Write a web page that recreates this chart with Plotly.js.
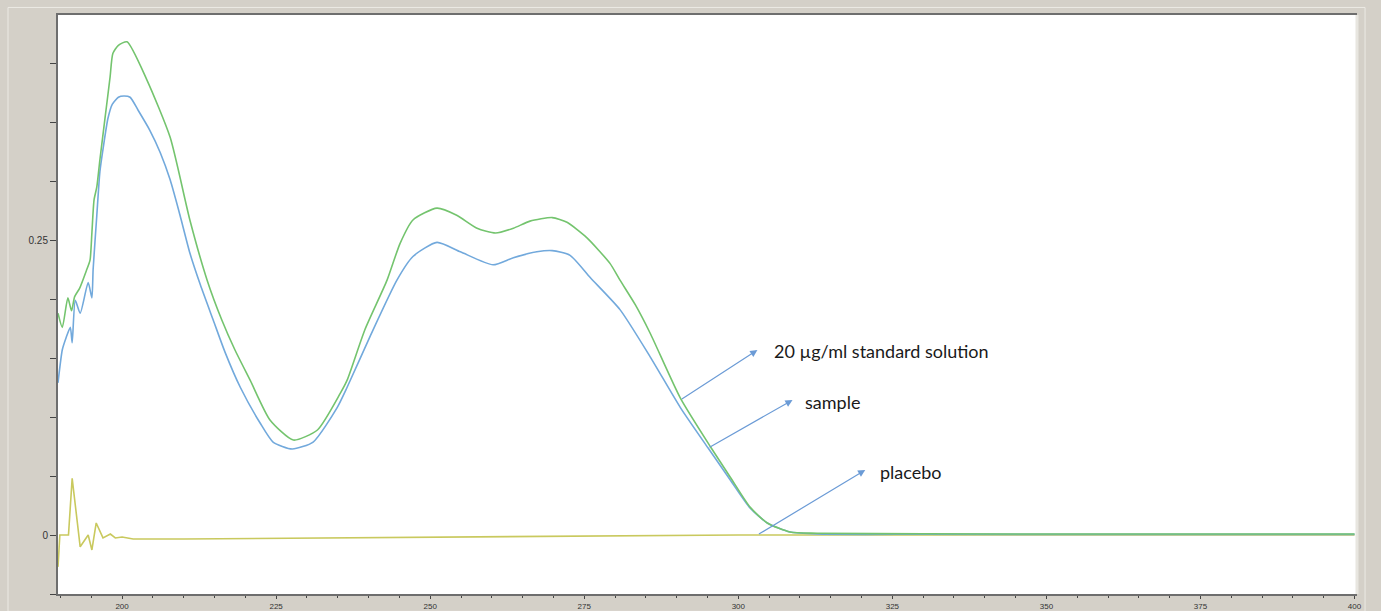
<!DOCTYPE html>
<html>
<head>
<meta charset="utf-8">
<script src="https://cdn.plot.ly/plotly-3.0.1.min.js"></script>
<style>
  html, body { margin: 0; padding: 0; background: #d4d0c8; }
  #chart { width: 1381px; height: 611px; }
</style>
</head>
<body>
<div id="chart"></div>
<script>
// Wavelength (nm) and absorbance
const standardX = [189.6,190.3,191.2,191.8,192.3,193.1,194.2,194.8,195.1,195.45,195.9,196.4,197.2,198.05,198.5,199.4,200.8,204.0,207.8,211.0,213.8,216.2,218.3,220.8,224.0,227.8,231.7,235.4,236.5,239.4,243.0,245.1,247.2,251.1,254.3,257.6,260.6,263.5,266.2,269.8,272.2,275.4,279.2,280.8,283.3,285.7,290.6,295.5,298.7,301.9,304.7,308.4,312.8,330,360,400];
const standardY = [0.188,0.176,0.201,0.190,0.202,0.209,0.224,0.233,0.256,0.284,0.295,0.318,0.352,0.388,0.408,0.415,0.418,0.386,0.337,0.267,0.216,0.182,0.157,0.131,0.0975,0.0805,0.089,0.120,0.131,0.174,0.216,0.247,0.267,0.277,0.271,0.260,0.256,0.260,0.266,0.269,0.265,0.252,0.230,0.216,0.195,0.171,0.116,0.0746,0.049,0.0237,0.0102,0.0025,0.0015,0.001,0.0008,0.0008];

const sampleX = [189.6,190.3,190.9,191.6,191.9,192.4,193.2,194.5,195.1,195.3,195.9,196.4,196.96,197.7,198.4,199.4,200.3,201.3,202.6,204.5,206.2,207.8,209.4,211.0,212.7,214.8,216.7,219.2,222.4,224.5,227.6,231.0,234.9,236.5,240.3,244.6,247.2,251.1,254.9,260.2,263.5,267.3,269.8,272.7,276.0,280.8,285.7,290.6,295.1,298.7,301.9,304.7,308.4,312.8,330,360,400];
const sampleY = [0.129,0.157,0.167,0.176,0.163,0.199,0.188,0.214,0.201,0.225,0.271,0.308,0.329,0.353,0.365,0.371,0.372,0.371,0.360,0.343,0.324,0.301,0.271,0.239,0.212,0.182,0.155,0.125,0.0949,0.0788,0.0729,0.0788,0.108,0.125,0.169,0.216,0.236,0.248,0.240,0.229,0.235,0.240,0.241,0.237,0.218,0.191,0.151,0.108,0.0737,0.0466,0.0229,0.0102,0.0025,0.0008,0.0006,0.0005,0.0005];

const placeboX = [189.6,189.9,190.9,191.3,191.9,193.2,194.5,195.1,195.8,196.9,198.1,198.9,200.0,201.8,210,220,240,260,280,300,400];
const placeboY = [-0.027,0.0,0.0,0.0,0.048,-0.010,0.0,-0.0127,0.0102,-0.0025,0.0008,-0.0025,-0.0017,-0.0034,-0.0034,-0.003,-0.002,-0.001,-0.0005,0.0,0.0];

const xTickVals = [200,225,250,275,300,325,350,375,400];
const yTickVals = [-0.05,0,0.05,0.1,0.15,0.2,0.25,0.3,0.35,0.4];
const yTickText = ['','0','','','','','0.25','','',''];

// Label texts and the points they refer to
const labelTexts = ['20 µg/ml standard solution','sample','placebo'];
const labelX = [305.5,310.5,322.6];
const labelY = [0.156,0.1127,0.0534];
const arrowTailX = [290.6,295.1,303.1];
const arrowTailY = [0.1144,0.0737,0.0];
const arrowHeadX = [303.1,308.8,320.6];
const arrowHeadY = [0.1568,0.1144,0.0551];

const traces = [
  {x: placeboX, y: placeboY, type: 'scatter', mode: 'lines', name: 'placebo',
   line: {color: '#c9c95e', width: 1.6}},
  {x: sampleX, y: sampleY, type: 'scatter', mode: 'lines', name: 'sample',
   line: {color: '#72a9dc', width: 1.6, shape: 'spline', smoothing: 0.6}},
  {x: standardX, y: standardY, type: 'scatter', mode: 'lines', name: '20 µg/ml standard solution',
   line: {color: '#74c46e', width: 1.6, shape: 'spline', smoothing: 0.6}}
];

const annotations = [];
for (let i = 0; i < labelTexts.length; i++) {
  annotations.push({
    x: labelX[i], y: labelY[i], xref: 'x', yref: 'y', text: labelTexts[i],
    showarrow: false, xanchor: 'left', yanchor: 'middle',
    font: {family: 'Lato, "Open Sans", sans-serif', size: 18, color: '#1a1a1a'}
  });
  annotations.push({
    x: arrowHeadX[i], y: arrowHeadY[i], xref: 'x', yref: 'y',
    ax: arrowTailX[i], ay: arrowTailY[i], axref: 'x', ayref: 'y',
    text: '', showarrow: true, arrowhead: 2, arrowsize: 1.2, arrowwidth: 1.2,
    arrowcolor: '#6b9bd6'
  });
}

const layout = {
  width: 1381, height: 611,
  paper_bgcolor: '#d4d0c8',
  plot_bgcolor: '#ffffff',
  margin: {l: 58, r: 24, t: 15, b: 17},
  showlegend: false,
  hovermode: false,
  xaxis: {
    range: [189.6, 400.4],
    tickvals: xTickVals,
    ticks: 'outside', ticklen: 3, tickwidth: 1, tickcolor: '#444',
    minor: {dtick: 5, tick0: 0, ticks: 'outside', ticklen: 2, tickwidth: 1, tickcolor: '#444'},
    showgrid: false, zeroline: false,
    showline: true, linecolor: '#6e6e6e', linewidth: 2, mirror: true,
    ticklabelstandoff: 0,
    tickfont: {family: 'Arial, "Liberation Sans", sans-serif', size: 8, color: '#333'}
  },
  yaxis: {
    range: [-0.05, 0.4407],
    tickvals: yTickVals, ticktext: yTickText,
    ticks: 'outside', ticklen: 6, tickwidth: 1, tickcolor: '#444',
    showgrid: false, zeroline: false,
    showline: true, linecolor: '#6e6e6e', linewidth: 2,
    tickfont: {family: 'Arial, "Liberation Sans", sans-serif', size: 10, color: '#333'}
  },
  annotations: annotations,
  shapes: [
    {type: 'line', xref: 'paper', yref: 'paper', x0: 1.0, x1: 1.0, y0: 0, y1: 1,
     line: {color: '#e8e6e0', width: 3}},
    {type: 'rect', xref: 'paper', yref: 'paper', x0: -0.0385, x1: 1.0062, y0: -0.03, y1: 1.013,
     line: {color: '#eceae4', width: 1}, layer: 'below'}
  ]
};

Plotly.newPlot('chart', traces, layout, {displayModeBar: false, staticPlot: true});
</script>
</body>
</html>
